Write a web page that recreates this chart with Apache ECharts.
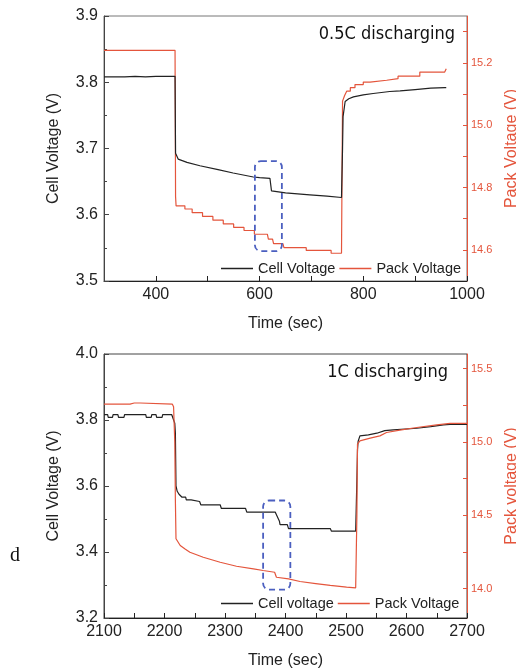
<!DOCTYPE html>
<html><head><meta charset="utf-8">
<script src="https://cdn.jsdelivr.net/npm/echarts@6/dist/echarts.min.js"></script>
<style>html,body{margin:0;padding:0;background:#fff}#c{width:516px;height:670px}</style>
</head><body><div id="c"></div>
<script>
// ---- Top panel (0.5C) ----
const topCell = [[300,3.808],[340,3.808],[360,3.809],[380,3.808],[400,3.809],[420,3.809],[437,3.809],
[438,3.693],[443,3.684],[460,3.679],[485,3.674],[520,3.668],[549,3.663],[588,3.657],[600,3.656],[620,3.655],
[623,3.636],[650,3.633],[697,3.630],[730,3.628],[758,3.626],[760,3.70],[761,3.748],[765,3.771],[772,3.775],
[781,3.778],[800,3.781],[819,3.783],[851,3.786],[871,3.787],[900,3.789],[930,3.791],[957,3.792],[960,3.792]];
const topPack = [[300,15.24],[437,15.24],[438,14.771],[439,14.741],[456,14.741],[456,14.731],[470,14.731],[470,14.719],
[490,14.719],[490,14.707],[510,14.707],[510,14.695],[530,14.695],[530,14.683],[550,14.683],[550,14.672],[570,14.672],
[570,14.662],[590,14.662],[590,14.650],[615,14.650],[617,14.634],[625,14.634],[627,14.620],[645,14.620],[647,14.607],
[690,14.607],[690,14.598],[738,14.598],[738,14.589],[758,14.589],[760,15.077],[764,15.095],[768,15.109],[775,15.109],
[775,15.12],[784,15.12],[784,15.13],[800,15.13],[800,15.138],[813,15.138],[813,15.144],[845,15.144],[845,15.149],
[867,15.149],[867,15.157],[909,15.157],[909,15.17],[957,15.17],[957,15.176],[960,15.181]];
const topBox = [[591,3.681,643,3.545]];
const topXLabels = [400,600,800,1000];
const topXTicks = [400,500,600,700,800,900,1000];
const topPackLabels = [14.6,14.8,15.0,15.2];
const topPackTicks = [14.6,14.7,14.8,14.9,15.0,15.1,15.2,15.3];

// ---- Bottom panel (1C) ----
const botCell = [[2100,3.816],[2106,3.816],[2107,3.808],[2114,3.808],[2115,3.816],[2123,3.816],[2124,3.808],[2133,3.808],
[2134,3.816],[2169,3.816],[2170,3.808],[2178,3.808],[2179,3.816],[2186,3.816],[2187,3.808],[2196,3.808],[2197,3.816],
[2212,3.816],[2214,3.811],[2217,3.79],[2218,3.76],[2219,3.60],[2221,3.584],[2224,3.575],[2229,3.566],[2235,3.566],
[2236,3.558],[2244,3.558],[2245,3.553],[2258,3.553],[2260,3.543],[2292,3.543],[2294,3.532],[2334,3.532],[2336,3.521],
[2383,3.521],[2385,3.513],[2390,3.493],[2391,3.483],[2403,3.483],[2405,3.471],[2474,3.471],[2476,3.463],[2516,3.463],
[2518,3.62],[2519,3.71],[2520,3.735],[2523,3.752],[2537,3.755],[2540,3.759],[2551,3.76],[2553,3.765],[2564,3.768],
[2578,3.770],[2617,3.775],[2640,3.78],[2661,3.785],[2672,3.787],[2700,3.787]];
const botPack = [[2100,15.258],[2143,15.258],[2145,15.266],[2150,15.266],[2152,15.26],[2155,15.266],[2160,15.266],[2162,15.258],
[2213,15.258],[2215,15.24],[2217,15.0],[2218,14.6],[2219,14.34],[2220,14.328],[2226,14.294],[2234,14.27],[2242,14.248],
[2264,14.214],[2292,14.18],[2319,14.153],[2347,14.135],[2363,14.124],[2382,14.112],[2385,14.078],[2405,14.067],
[2424,14.049],[2450,14.035],[2474,14.022],[2501,14.01],[2516,14.006],[2518,14.5],[2519,14.986],[2521,14.997],[2523,15.008],
[2540,15.026],[2556,15.042],[2567,15.065],[2589,15.081],[2617,15.099],[2650,15.117],[2672,15.127],[2700,15.127]];
const botBox = [[2363,3.556,2408,3.286]];
const botXLabels = [2100,2200,2300,2400,2500,2600,2700];
const botXTicks = [2100,2150,2200,2250,2300,2350,2400,2450,2500,2550,2600,2650,2700];
const botPackLabels = [14.0,14.5,15.0,15.5];
const botPackTicks = [14.0,14.25,14.5,14.75,15.0,15.25,15.5];

const RED = '#e4553c', BLK = '#222', BLUE = '#4b5fc0';
const F = '"Liberation Sans", Arial, sans-serif';
const TF = '"DejaVu Sans Condensed","DejaVu Sans",sans-serif';

function xAx(grid, min, max, interval, labels, ticks){
  return {type:'value', gridIndex:grid, min, max, interval,
    name:'Time (sec)', nameLocation:'middle', nameGap:35,
    nameTextStyle:{fontFamily:F, fontSize:16, color:'#222'},
    axisLine:{show:true, lineStyle:{color:'#222', width:1}},
    axisTick:{show:true, inside:true, length:5, customValues:ticks, lineStyle:{color:'#222'}},
    axisLabel:{customValues:labels, fontFamily:F, fontSize:16, color:'#222', margin:6, formatter:v=>String(v)},
    splitLine:{show:false}};
}
function yLeft(grid, min, max, interval){
  return {type:'value', gridIndex:grid, position:'left', min, max, interval,
    name:'Cell Voltage (V)', nameLocation:'middle', nameGap:42, nameRotate:90,
    nameTextStyle:{fontFamily:F, fontSize:16, color:'#222'},
    axisLine:{show:true, lineStyle:{color:'#444', width:1}},
    axisTick:{show:true, inside:true, length:5, lineStyle:{color:'#444'}},
    minorTick:{show:true, splitNumber:2, length:3, lineStyle:{color:'#444'}},
    axisLabel:{fontFamily:F, fontSize:16, color:'#222', margin:6, formatter:v=>v.toFixed(1)},
    splitLine:{show:false}};
}
function yRight(grid, min, max, name, labels, ticks){
  return {type:'value', gridIndex:grid, position:'right', min, max,
    name, nameLocation:'middle', nameGap:34, nameRotate:90,
    nameTextStyle:{fontFamily:F, fontSize:16, color:RED},
    axisLine:{show:true, lineStyle:{color:RED, width:1}},
    axisTick:{show:true, inside:true, length:4, customValues:ticks, lineStyle:{color:RED}},
    axisLabel:{customValues:labels, fontFamily:F, fontSize:11, color:RED, margin:4, formatter:v=>v.toFixed(1)},
    splitLine:{show:false}};
}
function boxRender(params, api){
  const p0 = api.coord([api.value(0), api.value(1)]);
  const p1 = api.coord([api.value(2), api.value(3)]);
  return {type:'rect', shape:{x:p0[0], y:p0[1], width:p1[0]-p0[0], height:p1[1]-p0[1], r:6},
    style:{fill:'none', stroke:BLUE, lineWidth:1.8, lineDash:[6,4]}};
}
const lineBase = {type:'line', showSymbol:false, symbol:'none', animation:false};

const option = {
  animation:false,
  grid:[
    {left:104, right:49, top:16, height:265, show:true, borderColor:'#777', borderWidth:1, containLabel:false, outerBoundsMode:'none'},
    {left:104, right:49, top:354, height:264, show:true, borderColor:'#444', borderWidth:1, containLabel:false, outerBoundsMode:'none'}
  ],
  title:[
    {text:'0.5C discharging', right:61, top:25, padding:0, textStyle:{fontFamily:TF, fontSize:18, fontWeight:'normal', color:'#111'}},
    {text:'1C discharging', right:68, top:363, padding:0, textStyle:{fontFamily:TF, fontSize:18, fontWeight:'normal', color:'#111'}}
  ],
  legend:[
    {data:['Cell Voltage','Pack Voltage'], left:221, top:261, padding:0, icon:'rect', itemWidth:32, itemHeight:1.5, itemGap:4,
     textStyle:{fontFamily:F, fontSize:14.5, color:'#222'}},
    {data:['Cell voltage','Pack Voltage'], left:221, top:596, padding:0, icon:'rect', itemWidth:32, itemHeight:1.5, itemGap:4,
     textStyle:{fontFamily:F, fontSize:14.5, color:'#222'}}
  ],
  xAxis:[ xAx(0,300,1000,100,topXLabels,topXTicks), xAx(1,2100,2700,50,botXLabels,botXTicks) ],
  yAxis:[ yLeft(0,3.5,3.9,0.1), yRight(0,14.5,15.35,'Pack Voltage (V)',topPackLabels,topPackTicks),
          yLeft(1,3.2,4.0,0.2), yRight(1,13.8,15.6,'Pack voltage (V)',botPackLabels,botPackTicks) ],
  graphic:[{type:'text', left:10, top:546, style:{text:'d', fontFamily:'"Liberation Serif", serif', fontSize:20, fill:'#111'}}],
  series:[
    Object.assign({}, lineBase, {name:'Pack Voltage', xAxisIndex:0, yAxisIndex:1, data:topPack, color:RED, lineStyle:{color:RED, width:1.2}}),
    Object.assign({}, lineBase, {name:'Cell Voltage', xAxisIndex:0, yAxisIndex:0, data:topCell, color:BLK, lineStyle:{color:BLK, width:1.2}}),
    {type:'custom', xAxisIndex:0, yAxisIndex:0, data:topBox, renderItem:boxRender, silent:true, z:5},
    Object.assign({}, lineBase, {name:'Cell voltage', xAxisIndex:1, yAxisIndex:2, data:botCell, color:BLK, lineStyle:{color:BLK, width:1.2}}),
    Object.assign({}, lineBase, {name:'Pack Voltage', xAxisIndex:1, yAxisIndex:3, data:botPack, color:RED, lineStyle:{color:RED, width:1.2}}),
    {type:'custom', xAxisIndex:1, yAxisIndex:2, data:botBox, renderItem:boxRender, silent:true, z:5}
  ]
};
const chart = echarts.init(document.getElementById('c'), null, {renderer:'canvas'});
chart.setOption(option);
</script></body></html>
